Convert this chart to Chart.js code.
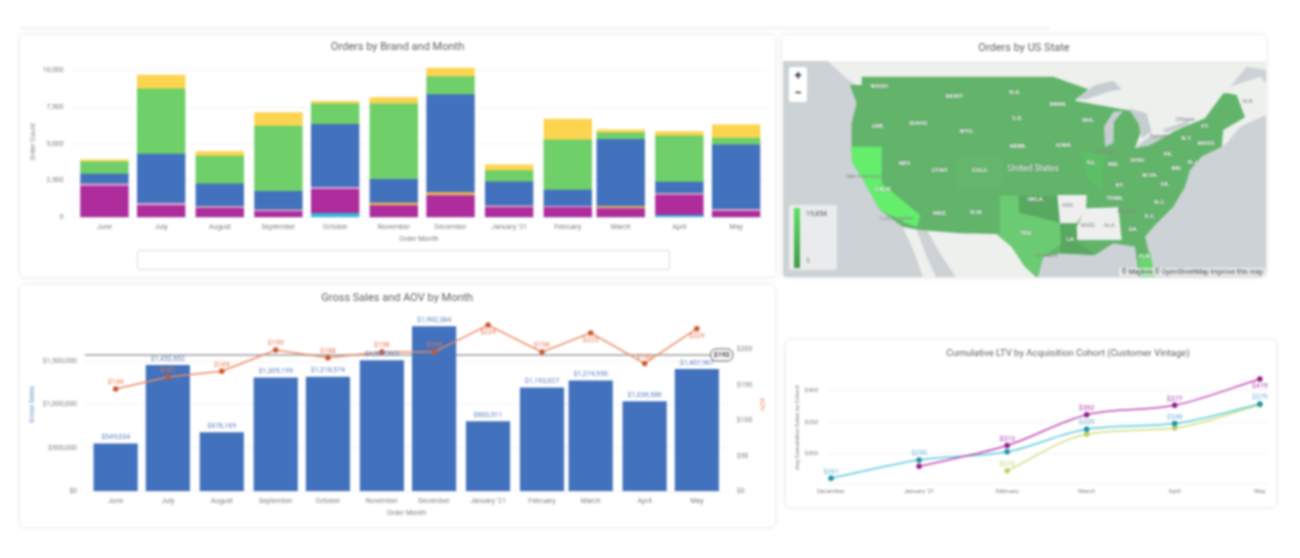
<![CDATA[<!DOCTYPE html>
<html>
<head>
<meta charset="utf-8">
<title>Dashboard</title>
<script src="https://cdn.jsdelivr.net/npm/chart.js@4/dist/chart.umd.min.js"></script>
<style>
  html, body { margin: 0; padding: 0; width: 1300px; height: 558px; overflow: hidden; background: #fff; }
  #page { position: relative; width: 1300px; height: 558px; filter: blur(0.85px); font-family: Roboto, sans-serif; }
  .strip { position: absolute; left: 20px; top: 26px; width: 1030px; height: 4px; background: #f7f7f7; }
  .card { position: absolute; background: #fff; border-radius: 5px; box-shadow: 0 0 5px rgba(0,0,0,.12); overflow: hidden; }
  .card canvas { position: absolute; left: 0; top: 0; }
  #filterBox { position: absolute; left: 117px; top: 215px; width: 531px; height: 18px; border: 1px solid #dcdcdc; border-radius: 2px; }
  .domTitle { position: absolute; text-align: center; color: #5f5f5f; }
  #mapTitle { left: 0; top: 6px; width: 100%; font-size: 11px; }
  #ltvTitle { left: 0; top: 7px; width: 564px; font-size: 9.5px; white-space: nowrap; }
  #mapWrap { position: absolute; left: 1px; top: 26px; width: 483px; height: 216px; background: #ccd2d5; }
  #zoomBox { position: absolute; left: 6px; top: 6px; width: 18px; height: 35px; background: #fff; border-radius: 2px; color: #333; font-size: 13px; font-weight: bold; text-align: center; line-height: 17px; }
  #scaleBox { position: absolute; left: 6px; top: 144px; width: 48px; height: 65px; background: rgba(238,240,240,.85); border-radius: 2px; font-size: 7px; color: #555; }
  #scaleBar { position: absolute; left: 5px; top: 3px; width: 6px; height: 60px; background: linear-gradient(#5fe066, #3f9a4b); }
  #scaleMax { position: absolute; left: 17px; top: 5px; }
  #scaleMin { position: absolute; left: 17px; top: 52px; }
  #attrib { position: absolute; right: 1px; bottom: 1px; padding: 0 2px; background: rgba(255,255,255,.6); font-size: 6.8px; color: #444; }
</style>
</head>
<body>
<div id="page">
  <div class="strip"></div>
  <div class="card" style="left:20px;top:35px;width:755px;height:242px">
    <canvas id="ordersChart" width="755" height="242"></canvas>
    <div id="filterBox"></div>
  </div>
  <div class="card" style="left:782px;top:35px;width:484px;height:242px">
    <div class="domTitle" id="mapTitle">Orders by US State</div>
    <div id="mapWrap">
      <canvas id="mapChart" width="483" height="216"></canvas>
      <div id="zoomBox">+<br>−</div>
      <div id="scaleBox"><div id="scaleBar"></div><div id="scaleMax">19,854</div><div id="scaleMin">1</div></div>
      <div id="attrib">© Mapbox © OpenStreetMap Improve this map</div>
    </div>
  </div>
  <div class="card" style="left:20px;top:285px;width:755px;height:242px">
    <canvas id="salesChart" width="755" height="242"></canvas>
  </div>
  <div class="card" style="left:786px;top:340px;width:490px;height:167px">
    <canvas id="ltvChart" width="490" height="167"></canvas>
    <div class="domTitle" id="ltvTitle">Cumulative LTV by Acquisition Cohort (Customer Vintage)</div>
  </div>
</div>

<script>
// months and their day offset from June 1 (the dashboard uses a time axis)
const months = ['June', 'July', 'August', 'September', 'October', 'November', 'December', "January '21", 'February', 'March', 'April', 'May'];
const monthDays = [0, 30, 61, 92, 122, 153, 183, 214, 245, 273, 304, 334];

// orders by brand, bottom of the stack first
const brandCyan = [0, 0, 0, 0, 270, 0, 0, 0, 0, 0, 135, 0];
const brandMagenta = [2130, 795, 610, 385, 1635, 795, 1475, 660, 660, 590, 1385, 410];
const brandPink = [136, 160, 110, 110, 135, 0, 0, 110, 90, 0, 90, 115];
const brandOrange = [0, 0, 0, 0, 0, 180, 205, 0, 0, 135, 0, 0];
const brandBlue = [682, 3360, 1570, 1270, 4310, 1610, 6690, 1655, 1110, 4585, 795, 4425];
const brandGreen = [840, 4450, 1880, 4450, 1385, 5150, 1225, 770, 3430, 455, 3155, 455];
const brandYellow = [136, 930, 320, 930, 180, 430, 590, 385, 1410, 205, 295, 910];
const orderTicks = [0, 2500, 5000, 7500, 10000];

// gross sales and AOV
const grossSales = [549034, 1452652, 678169, 1309199, 1318574, 1507945, 1902384, 803511, 1193027, 1274956, 1036586, 1407967];
const aov = [144, 161, 169, 199, 188, 196, 196, 234, 196, 223, 180, 229];
const aovAverage = 192;
const salesTicks = [0, 500000, 1000000, 1500000];
const aovTicks = [0, 50, 100, 150, 200];

// LTV cohorts
const ltvMonths = ['December', "January '21", 'February', 'March', 'April', 'May'];
const ltvDays = [0, 31, 62, 90, 121, 151];
const cohortDecember = [261, 290, 303, 339, 348, 379];
const cohortJanuary = [null, 280, 313, 362, 377, 419];
const cohortFebruary = [null, null, 273, 331, 341, 378];
const ltvTicks = [300, 350, 400];

// map outlines, traced in map units
const shapeCanada = [[140,90],[1458,90],[1458,120],[1400,110],[1350,170],[1440,140],[1458,160],[1458,255],[1380,290],[1340,340],[1200,420],[1100,420],[900,300],[600,250],[260,180],[205,150]];
const shapeBaja = [[368,590],[410,600],[440,680],[470,745],[430,745],[400,660]];
const shapeMexico = [[440,600],[650,612],[700,650],[775,745],[530,745],[480,670]];
const shapeUS = [[245,140],[820,140],[925,178],[885,212],[1040,240],[1100,255],[1065,355],[1110,345],[1180,305],[1225,285],[1275,265],[1330,190],[1345,190],[1370,195],[1395,262],[1330,300],[1325,350],[1265,380],[1230,420],[1215,470],[1180,530],[1120,590],[1095,620],[1110,680],[1125,745],[1078,745],[1065,650],[1000,640],[945,675],[840,670],[790,680],[772,745],[735,710],[695,650],[650,612],[540,610],[420,600],[368,590],[300,540],[250,450],[215,370],[215,280],[230,220],[210,165],[245,165]];
const shapeCalifornia = [[215,350],[305,350],[305,460],[420,555],[412,590],[368,575],[300,540],[250,450],[215,395]];
const shapeTexas = [[660,497],[715,497],[717,548],[840,578],[842,645],[790,678],[772,742],[735,710],[695,650],[650,612],[605,612],[660,612]];
const shapeIllinois = [[905,365],[975,375],[965,480],[925,450],[915,420]];
const shapeFlorida = [[1075,680],[1110,665],[1125,745],[1078,745]];
const shapeColorado = [[530,380],[665,380],[665,478],[530,478]];
const shapeOklahoma = [[716,497],[832,497],[840,578],[717,548]];
const shapeLouisiana = [[840,580],[890,580],[890,630],[945,675],[840,670]];
const shapeArkansas = [[832,495],[920,495],[918,540],[890,580],[840,580]];
const shapeAlabama = [[918,535],[1015,532],[1025,630],[892,630],[890,590]];
const lakeSuperior = [[885,208],[945,165],[1000,152],[1025,178],[985,185],[920,208]];
const lakeMichigan = [[975,350],[972,290],[1000,245],[1030,242],[1002,275],[1000,340]];
const lakeHuron = [[1045,235],[1100,250],[1115,305],[1085,325],[1075,280]];
const lakeErie = [[1062,355],[1110,318],[1170,312],[1110,345]];
const lakeOntario = [[1145,300],[1235,268],[1218,288],[1160,308]];
const stateLabels = [['WASH.',300,170],['MONT.',525,200],['N.D.',705,188],['MINN.',835,222],['ORE.',295,290],['IDAHO',415,280],['WYO.',560,303],['S.D.',712,265],['WIS.',925,270],['NEBR.',715,350],['IOWA',850,345],['NEV.',375,400],['UTAH',478,422],['COLO.',600,422],['United States',760,418],['ILL.',935,397],['IND.',1000,403],['OHIO',1072,390],['PA.',1165,373],['N.Y.',1220,325],['VT.',1275,288],['MASS.',1280,340],['W.VA.',1110,435],['KY.',1020,465],['VA.',1155,463],['N.C.',1140,517],['TENN.',1005,505],['OKLA.',768,508],['S.C.',1110,558],['GA.',1060,597],['N.M.',590,547],['ARIZ.',480,550],['CALIF.',310,478],['TEX.',740,610],['LA.',873,628],['FLA.',1095,680],['MD.',1190,415],['N.J.',1240,398]];
const greyLabels = [['ARK.',865,527],['MISS.',925,585],['ALA.',990,585],['N.B.',1405,213],['Ottawa',1215,268],['Toronto',1140,320],['Chicago',975,365],['Atlanta',1040,545],['Houston',800,675],['San Francisco',255,440],['Los Angeles',350,565]];

const FONT = 'Roboto';
const GRID = '#f3f3f3';
const TICK = '#808080';
const TITLE = '#5f5f5f';

function toPoints(days, values) {
  return values.map((v, i) => ({ x: days[i], y: v }));
}

function fixedTicks(list) {
  return scale => { scale.ticks = list.map(v => ({ value: v })); };
}

function money(v) {
  return '$' + v.toLocaleString('en-US');
}

// value labels, since there is no datalabels plugin here
const valueLabels = {
  id: 'valueLabels',
  afterDatasetsDraw(chart) {
    const ctx = chart.ctx;
    chart.data.datasets.forEach((ds, d) => {
      if (!ds.labelColor) return;
      const meta = chart.getDatasetMeta(d);
      ctx.save();
      ctx.font = '7px ' + FONT;
      ctx.fillStyle = ds.labelColor;
      ctx.textAlign = 'center';
      ctx.textBaseline = 'middle';
      meta.data.forEach((el, i) => {
        const v = ds.data[i].y;
        if (v === null || (ds.labelSkip && ds.labelSkip.includes(i))) return;
        const below = ds.labelBelow && ds.labelBelow.includes(i);
        ctx.fillText(money(v), el.x, el.y + (below ? 7.5 : -6.5));
      });
      ctx.restore();
    });
  }
};

// ------ orders by brand
const brandSeries = [
  ['Cyan', brandCyan, '#35b6d8'],
  ['Magenta', brandMagenta, '#ae2c9b'],
  ['Pink', brandPink, '#d9a6d6'],
  ['Orange', brandOrange, '#f0b84a'],
  ['Blue', brandBlue, '#4272bd'],
  ['Green', brandGreen, '#6fcf69'],
  ['Yellow', brandYellow, '#fdd44f']
];

new Chart(document.getElementById('ordersChart'), {
  type: 'bar',
  data: {
    datasets: brandSeries.map(s => ({
      label: s[0],
      data: toPoints(monthDays, s[1]),
      backgroundColor: s[2],
      barThickness: 47.7
    }))
  },
  options: {
    responsive: false,
    animation: false,
    layout: { padding: { left: 9, right: 9, bottom: 33.8 } },
    plugins: {
      legend: { display: false },
      tooltip: { enabled: false },
      title: { display: true, text: 'Orders by Brand and Month', color: TITLE, font: { family: FONT, size: 11, weight: 'normal' }, padding: { top: 6, bottom: 12.1 } }
    },
    scales: {
      x: {
        type: 'linear', stacked: true, offset: false,
        min: -17.3, max: 349.8,
        afterBuildTicks: fixedTicks(monthDays),
        afterFit: s => { s.height = 25.9; },
        grid: { display: false, offset: false, drawTicks: false },
        border: { display: false },
        ticks: { color: TICK, font: { family: FONT, size: 7 }, padding: 6, maxRotation: 0, autoSkip: false, callback: v => months[monthDays.indexOf(v)] },
        title: { display: true, text: 'Order Month', color: TICK, font: { family: FONT, size: 7 }, padding: 0 }
      },
      y: {
        stacked: true, min: 0, max: 10300,
        afterBuildTicks: fixedTicks(orderTicks),
        afterFit: s => { s.width = 42.7; },
        grid: { color: GRID, drawTicks: false },
        border: { display: false },
        ticks: { color: TICK, font: { family: FONT, size: 7 }, padding: 8, callback: v => v.toLocaleString('en-US') },
        title: { display: true, text: 'Order Count', color: TICK, font: { family: FONT, size: 7 }, padding: 0 }
      }
    }
  }
});

// ------ map
const mapPolygons = [
  [shapeCanada, '#eef0ee'],
  [shapeBaja, '#eef0ee'],
  [shapeMexico, '#eef0ee'],
  [shapeUS, '#62b46b'],
  [shapeColorado, '#64b76c'],
  [shapeIllinois, '#5cbf66'],
  [shapeOklahoma, '#58a862'],
  [shapeLouisiana, '#58a862'],
  [shapeTexas, '#6bcb72'],
  [shapeFlorida, '#6bd672'],
  [shapeCalifornia, '#64ee6c'],
  [shapeArkansas, '#efefef'],
  [shapeAlabama, '#efefef'],
  [lakeSuperior, '#c6cdd1'],
  [lakeMichigan, '#c6cdd1'],
  [lakeHuron, '#c6cdd1'],
  [lakeErie, '#c6cdd1'],
  [lakeOntario, '#c6cdd1']
];

const mapLabels = {
  id: 'mapLabels',
  afterDatasetsDraw(chart) {
    const ctx = chart.ctx;
    const place = (l, color) => {
      ctx.fillStyle = color;
      ctx.fillText(l[0], chart.scales.x.getPixelForValue(l[1]), chart.scales.y.getPixelForValue(l[2]));
    };
    ctx.save();
    ctx.textAlign = 'center';
    ctx.textBaseline = 'middle';
    ctx.font = '6px ' + FONT;
    greyLabels.forEach(l => place(l, '#888'));
    ctx.shadowColor = 'rgba(60,60,60,.7)';
    ctx.shadowBlur = 1.5;
    stateLabels.forEach(l => {
      ctx.font = (l[0] === 'United States' ? '8.5px ' : 'bold 6px ') + FONT;
      place(l, '#fff');
    });
    ctx.restore();
  }
};

new Chart(document.getElementById('mapChart'), {
  type: 'scatter',
  data: {
    // first dataset paints last in Chart.js, so flip the list
    datasets: mapPolygons.slice().reverse().map(p => ({
      data: p[0].map(c => ({ x: c[0], y: c[1] })),
      showLine: true,
      fill: 'shape',
      backgroundColor: p[1],
      borderWidth: 0,
      pointRadius: 0
    }))
  },
  options: {
    responsive: false,
    animation: false,
    plugins: { legend: { display: false }, tooltip: { enabled: false } },
    scales: {
      x: { display: false, min: 9, max: 1458 },
      y: { display: false, min: 93, max: 741, reverse: true }
    }
  },
  plugins: [mapLabels]
});

// ------ gross sales and AOV
const aovLine = {
  id: 'aovLine',
  afterDatasetsDraw(chart) {
    const ctx = chart.ctx;
    const meta = chart.getDatasetMeta(2);
    const end = meta.data[1];
    ctx.save();
    ctx.fillStyle = '#fff';
    ctx.strokeStyle = '#333';
    ctx.lineWidth = 0.8;
    ctx.beginPath();
    ctx.roundRect(end.x, end.y - 6, 22, 12, 5);
    ctx.fill();
    ctx.stroke();
    ctx.fillStyle = '#333';
    ctx.font = 'bold 7px ' + FONT;
    ctx.textAlign = 'center';
    ctx.textBaseline = 'middle';
    ctx.fillText(money(aovAverage), end.x + 11, end.y);
    ctx.restore();
  }
};

new Chart(document.getElementById('salesChart'), {
  type: 'bar',
  data: {
    datasets: [
      {
        type: 'line', label: 'AOV', yAxisID: 'yAov',
        data: toPoints(monthDays, aov),
        borderColor: '#ea8a62', borderWidth: 1.5, tension: 0,
        pointBackgroundColor: '#c9592f', pointBorderColor: '#c9592f', pointRadius: 2,
        labelColor: '#e9764b', labelBelow: [7, 9, 11]
      },
      {
        label: 'Gross Sales', yAxisID: 'y',
        data: toPoints(monthDays, grossSales),
        backgroundColor: '#4272bd', barThickness: 43.5,
        labelColor: '#5f7fc4'
      },
      {
        type: 'line', label: 'Average AOV', yAxisID: 'yAov',
        data: [{ x: -17.6, y: aovAverage }, { x: 342, y: aovAverage }],
        borderColor: '#9c9c9c', borderWidth: 1.4, pointRadius: 0
      }
    ]
  },
  options: {
    responsive: false,
    animation: false,
    layout: { padding: { left: 8.5, right: 9, bottom: 9.5 } },
    plugins: {
      legend: { display: false },
      tooltip: { enabled: false },
      title: { display: true, text: 'Gross Sales and AOV by Month', color: TITLE, font: { family: FONT, size: 11, weight: 'normal' }, padding: { top: 6.4, bottom: 13.4 } }
    },
    scales: {
      x: {
        type: 'linear', offset: false,
        min: -17.6, max: 351.9,
        afterBuildTicks: fixedTicks(monthDays),
        afterFit: s => { s.height = 26.2; },
        grid: { display: false, offset: false, drawTicks: false },
        border: { display: false },
        ticks: { color: TICK, font: { family: FONT, size: 7 }, padding: 6, maxRotation: 0, autoSkip: false, callback: v => months[monthDays.indexOf(v)] },
        title: { display: true, text: 'Order Month', color: TICK, font: { family: FONT, size: 7 }, padding: 0 }
      },
      y: {
        min: 0, max: 2000000,
        afterBuildTicks: fixedTicks(salesTicks),
        afterFit: s => { s.width = 56.5; },
        grid: { color: GRID, drawTicks: false },
        border: { display: false },
        ticks: { color: TICK, font: { family: FONT, size: 7 }, padding: 8, callback: v => money(v) },
        title: { display: true, text: 'Gross Sales', color: '#6a8fc8', font: { family: FONT, size: 7 }, padding: 0 }
      },
      yAov: {
        position: 'right', min: 0, max: 244,
        afterBuildTicks: fixedTicks(aovTicks),
        afterFit: s => { s.width = 38; },
        grid: { display: false, drawTicks: false },
        border: { display: false },
        ticks: { color: TICK, font: { family: FONT, size: 7 }, padding: 8.7, callback: v => money(v) },
        title: { display: true, text: 'AOV', color: '#e58b68', font: { family: FONT, size: 7 }, padding: 0 }
      }
    }
  },
  plugins: [valueLabels, aovLine]
});

// ------ LTV cohorts
new Chart(document.getElementById('ltvChart'), {
  type: 'line',
  data: {
    datasets: [
      {
        label: 'January cohort', data: toPoints(ltvDays, cohortJanuary),
        borderColor: '#c248b4', pointBackgroundColor: '#8e1f86', pointBorderColor: '#8e1f86',
        labelColor: '#b03aa8', labelSkip: [1], labelBelow: [5]
      },
      {
        label: 'December cohort', data: toPoints(ltvDays, cohortDecember),
        borderColor: '#5cc8dc', pointBackgroundColor: '#1f8fa3', pointBorderColor: '#1f8fa3',
        labelColor: '#6fb3d9', labelSkip: [2]
      },
      {
        label: 'February cohort', data: toPoints(ltvDays, cohortFebruary),
        borderColor: '#cfe07e', pointBackgroundColor: '#b9cf66', pointBorderColor: '#b9cf66',
        labelColor: '#c5d36a', labelSkip: [3, 4, 5]
      }
    ]
  },
  options: {
    responsive: false,
    animation: false,
    layout: { padding: { top: 32, left: 7.7, right: 9, bottom: 9.7 } },
    datasets: { line: { borderWidth: 1.5, pointRadius: 2, cubicInterpolationMode: 'monotone' } },
    plugins: {
      legend: { display: false },
      tooltip: { enabled: false }
    },
    scales: {
      x: {
        type: 'linear', min: -1.41, max: 153.5,
        afterBuildTicks: fixedTicks(ltvDays),
        afterFit: s => { s.height = 14; },
        grid: { display: false, drawTicks: false },
        border: { color: GRID },
        ticks: { color: TICK, font: { family: FONT, size: 6 }, padding: 5, maxRotation: 0, autoSkip: false, callback: v => ltvMonths[ltvDays.indexOf(v)] }
      },
      y: {
        min: 253, max: 430,
        afterBuildTicks: fixedTicks(ltvTicks),
        afterFit: s => { s.width = 33.3; },
        grid: { color: GRID, drawTicks: false },
        border: { display: false },
        ticks: { color: TICK, font: { family: FONT, size: 6 }, padding: 9, callback: v => money(v) },
        title: { display: true, text: 'Avg Cumulative Sales by Cohort', color: TICK, font: { family: FONT, size: 6 }, padding: 0 }
      }
    }
  },
  plugins: [valueLabels]
});
</script>
</body>
</html>
]]>
